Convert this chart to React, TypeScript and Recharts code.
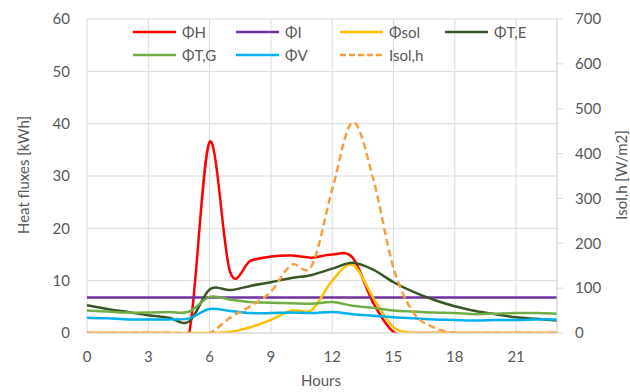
import React from "react";
import {
  LineChart,
  Line,
  XAxis,
  YAxis,
  CartesianGrid,
} from "recharts";

const hours = [0, 1, 2, 3, 4, 5, 6, 7, 8, 9, 10, 11, 12, 13, 14, 15, 16, 17, 18, 19, 20, 21, 22, 23];

const phiH = [0, 0, 0, 0, 0, 0, 36.5, 11.7, 13.8, 14.6, 14.8, 14.4, 15, 14.4, 5.8, 0.2, 0, 0, 0, 0, 0, 0, 0, 0];
const phiI = [6.8, 6.8, 6.8, 6.8, 6.8, 6.8, 6.8, 6.8, 6.8, 6.8, 6.8, 6.8, 6.8, 6.8, 6.8, 6.8, 6.8, 6.8, 6.8, 6.8, 6.8, 6.8, 6.8, 6.8];
const phiSol = [0, 0, 0, 0, 0, 0, 0, 0.2, 1.1, 2.5, 4.3, 4.4, 10, 13, 6.8, 1.1, 0, 0, 0, 0, 0, 0, 0, 0];
const phiTE = [5.3, 4.6, 4, 3.4, 2.9, 2.2, 8.3, 8.2, 9, 9.7, 10.5, 11.1, 12.3, 13.4, 12.1, 9.7, 7.8, 6.3, 5.1, 4.2, 3.6, 3.0, 2.7, 2.4];
const phiTG = [4.3, 4.1, 3.9, 3.9, 4, 4.1, 6.9, 6.4, 5.9, 5.8, 5.7, 5.6, 5.9, 5.2, 4.8, 4.3, 4.1, 3.9, 3.8, 3.6, 3.7, 3.8, 3.8, 3.7];
const phiV = [2.9, 2.8, 2.6, 2.6, 2.6, 2.8, 4.6, 4.2, 3.8, 3.8, 3.9, 3.8, 4.0, 3.6, 3.3, 3.0, 2.8, 2.6, 2.5, 2.4, 2.5, 2.5, 2.6, 2.6];
const isolH = [0, 0, 0, 0, 0, 0, 0, 34, 60, 92, 152, 150, 320, 470, 345, 145, 44, 12, 0, 0, 0, 0, 0, 0];

const xTicks = [0, 3, 6, 9, 12, 15, 18, 21, 23];
const leftTicks = [0, 10, 20, 30, 40, 50, 60];
const rightTicks = [0, 100, 200, 300, 400, 500, 600, 700];

const data = hours.map((h, i) => ({
  h,
  phiH: phiH[i],
  phiI: phiI[i],
  phiSol: phiSol[i],
  phiTE: phiTE[i],
  phiTG: phiTG[i],
  phiV: phiV[i],
  isolH: isolH[i],
}));

const FONT = "Lato, 'Open Sans', sans-serif";
const TEXT = "#595959";
const GRID = "#d9d9d9";

// Excel-style smoothed line (Catmull-Rom through every point)
function excelSmooth(context: any) {
  let pts: number[][] = [];
  return {
    areaStart() {},
    areaEnd() {},
    lineStart() {
      pts = [];
    },
    point(x: number, y: number) {
      pts.push([+x, +y]);
    },
    lineEnd() {
      if (!pts.length) return;
      context.moveTo(pts[0][0], pts[0][1]);
      for (let i = 0; i < pts.length - 1; i++) {
        const p0 = pts[i - 1] || pts[i];
        const p1 = pts[i];
        const p2 = pts[i + 1];
        const p3 = pts[i + 2] || p2;
        context.bezierCurveTo(
          p1[0] + (p2[0] - p0[0]) / 6,
          p1[1] + (p2[1] - p0[1]) / 6,
          p2[0] - (p3[0] - p1[0]) / 6,
          p2[1] - (p3[1] - p1[1]) / 6,
          p2[0],
          p2[1]
        );
      }
    },
  };
}

const legendItems = [
  { name: "ΦH", color: "#ff0000", left: 133, top: 32 },
  { name: "ΦI", color: "#7030a0", left: 236, top: 32 },
  { name: "Φsol", color: "#ffc000", left: 340, top: 32 },
  { name: "ΦT,E", color: "#375623", left: 445, top: 32 },
  { name: "ΦT,G", color: "#70ad47", left: 133, top: 55 },
  { name: "ΦV", color: "#00b0f0", left: 236, top: 55 },
  { name: "Isol,h", color: "#f5a040", left: 340, top: 55, dashed: true },
];

export default function App() {
  const tick = { fontSize: 15, fill: TEXT, fontFamily: FONT };
  return (
    <div style={{ position: "absolute", left: 0, top: 0, width: 630, height: 392, background: "#fff" }}>
      <LineChart
        width={630}
        height={392}
        data={data}
        margin={{ top: 19, right: 0, left: 0, bottom: 0 }}
      >
        <CartesianGrid yAxisId="left" stroke={GRID} strokeWidth={1} />
        <XAxis
          dataKey="h"
          type="number"
          domain={[0, 23]}
          ticks={xTicks}
          tickFormatter={(v) => (v === 23 ? "" : String(v))}
          tick={tick}
          tickLine={false}
          axisLine={{ stroke: GRID }}
          tickMargin={12}
          height={59}
          label={{
            content: () => (
              <text x={321} y={386} textAnchor="middle" fontSize={15} fill={TEXT} fontFamily={FONT}>
                Hours
              </text>
            ),
          }}
        />
        <YAxis
          yAxisId="left"
          domain={[0, 60]}
          allowDataOverflow
          ticks={leftTicks}
          tick={tick}
          tickLine={false}
          axisLine={false}
          tickMargin={11}
          width={87}
          label={{
            content: () => (
              <text
                x={23}
                y={175}
                transform="rotate(-90 23 175)"
                textAnchor="middle"
                dominantBaseline="central"
                fontSize={15}
                fill={TEXT}
                fontFamily={FONT}
              >
                Heat fluxes [kWh]
              </text>
            ),
          }}
        />
        <YAxis
          yAxisId="right"
          orientation="right"
          domain={[0, 700]}
          allowDataOverflow
          ticks={rightTicks}
          tick={tick}
          tickLine={{ stroke: GRID }}
          axisLine={{ stroke: GRID }}
          tickMargin={12}
          width={73}
          label={{
            content: () => (
              <text
                x={621}
                y={175}
                transform="rotate(-90 621 175)"
                textAnchor="middle"
                dominantBaseline="central"
                fontSize={15}
                fill={TEXT}
                fontFamily={FONT}
              >
                Isol,h [W/m2]
              </text>
            ),
          }}
        />
        <Line yAxisId="left" type={excelSmooth as any} dataKey="phiH" stroke="#ff0000" strokeWidth={2.5} dot={false} isAnimationActive={false} />
        <Line yAxisId="left" type={excelSmooth as any} dataKey="phiI" stroke="#7030a0" strokeWidth={2.5} dot={false} isAnimationActive={false} />
        <Line yAxisId="left" type={excelSmooth as any} dataKey="phiSol" stroke="#ffc000" strokeWidth={2.5} dot={false} isAnimationActive={false} />
        <Line yAxisId="left" type={excelSmooth as any} dataKey="phiTE" stroke="#375623" strokeWidth={2.5} dot={false} isAnimationActive={false} />
        <Line yAxisId="left" type={excelSmooth as any} dataKey="phiTG" stroke="#70ad47" strokeWidth={2.5} dot={false} isAnimationActive={false} />
        <Line yAxisId="left" type={excelSmooth as any} dataKey="phiV" stroke="#00b0f0" strokeWidth={2.5} dot={false} isAnimationActive={false} />
        <Line yAxisId="right" type={excelSmooth as any} dataKey="isolH" stroke="#f5a040" strokeWidth={2.5} strokeDasharray="7 4" dot={false} isAnimationActive={false} />
      </LineChart>

      {/* legend drawn over the plot, two rows like the original */}
      {legendItems.map((it) => (
        <div
          key={it.name}
          style={{
            position: "absolute",
            left: it.left,
            top: it.top - 10,
            height: 20,
            display: "flex",
            alignItems: "center",
            fontFamily: FONT,
            fontSize: 15,
            color: TEXT,
            whiteSpace: "nowrap",
          }}
        >
          <svg width={43} height={4} style={{ marginRight: 6 }}>
            <line
              x1={0}
              y1={2}
              x2={43}
              y2={2}
              stroke={it.color}
              strokeWidth={2.5}
              strokeDasharray={it.dashed ? "6 3" : undefined}
            />
          </svg>
          {it.name}
        </div>
      ))}
    </div>
  );
}
